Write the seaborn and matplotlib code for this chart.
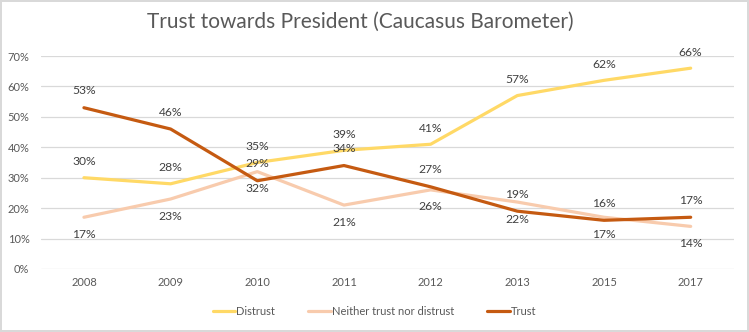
import matplotlib
matplotlib.use("Agg")
import matplotlib.pyplot as plt
import seaborn as sns
import pandas as pd

years = ["2008", "2009", "2010", "2011", "2012", "2013", "2015", "2017"]
distrust = [30, 28, 35, 39, 41, 57, 62, 66]
neither = [17, 23, 32, 21, 26, 22, 17, 14]
trust = [53, 46, 29, 34, 27, 19, 16, 17]
series_names = ["Distrust", "Neither trust nor distrust", "Trust"]
yticks = [0, 10, 20, 30, 40, 50, 60, 70]

colors = {"Distrust": "#FFD966", "Neither trust nor distrust": "#F8CBAD", "Trust": "#C55A11"}
label_pos = {"Distrust": 16, "Neither trust nor distrust": -17, "Trust": 17}

sns.set_theme(style="white")
plt.rcParams["font.family"] = ["Lato", "DejaVu Sans"]

rows = []
for name, vals in zip(series_names, [distrust, neither, trust]):
    for y, v in zip(years, vals):
        rows.append({"Year": y, "Value": v, "Series": name})
df = pd.DataFrame(rows)

fig = plt.figure(figsize=(7.49, 3.32), dpi=100)
ax = fig.add_axes([0.0542, 0.1898, 0.9258, 0.6415])

sns.lineplot(data=df, x="Year", y="Value", hue="Series", palette=colors,
             hue_order=series_names, sort=False, linewidth=2.3, ax=ax, legend=False)

ax.set_xlim(-0.5, len(years) - 0.5)
ax.set_ylim(0, 70)
ax.set_yticks(yticks)
ax.set_yticklabels([f"{t}%" for t in yticks])
ax.grid(axis="y", color="#D9D9D9", linewidth=0.9)
ax.set_axisbelow(True)
for s in ax.spines.values():
    s.set_visible(False)
ax.set_xlabel("")
ax.set_ylabel("")
ax.tick_params(axis="both", length=0, labelsize=8, labelcolor="#595959", pad=6)
ax.tick_params(axis="y", pad=8)

for name, vals in zip(series_names, [distrust, neither, trust]):
    for i, v in enumerate(vals):
        ax.annotate(f"{v}%", (i, v), xytext=(0, label_pos[name]), textcoords="offset pixels",
                    ha="center", va="center", fontsize=8.7, color="#404040")

handles = [plt.Line2D([], [], color=colors[n], linewidth=2.3) for n in series_names]
fig.legend(handles, series_names, loc="center", bbox_to_anchor=(0.5, 0.063), ncol=3,
           frameon=False, fontsize=8, handlelength=2.0, handletextpad=0.1, columnspacing=3.0,
           labelcolor="#595959")

fig.suptitle("Trust towards President (Caucasus Barometer)", x=0.481, y=0.964,
             fontsize=15, color="#595959")

fig.patch.set_edgecolor("#D9D9D9")
fig.patch.set_linewidth(1.5)
fig.savefig("out.png", dpi=100, edgecolor=fig.get_edgecolor())
